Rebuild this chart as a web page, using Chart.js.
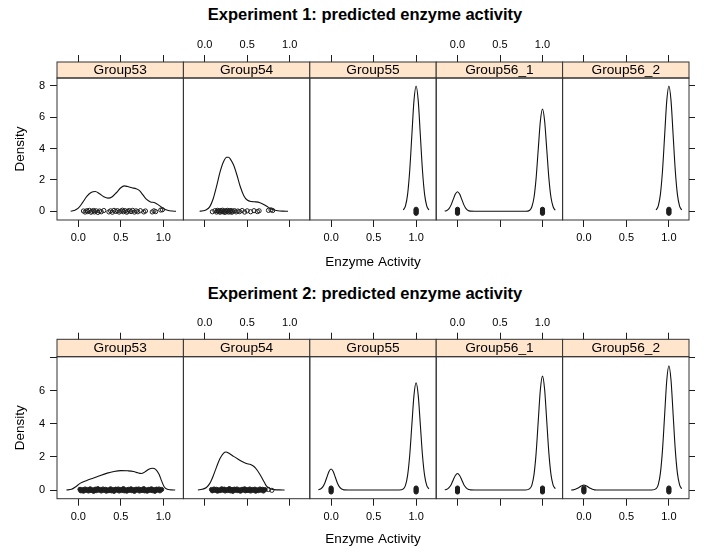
<!DOCTYPE html>
<html><head><meta charset="utf-8">
<script src="https://cdn.jsdelivr.net/npm/chart.js@4.4.1/dist/chart.umd.min.js"></script>
<style>
html,body{margin:0;padding:0;background:#fff;}
#root{position:relative;width:704px;height:555px;overflow:hidden;background:#fff;}
.mt{position:absolute;left:0;width:730px;text-align:center;font:bold 16.5px 'Liberation Sans',Arial,sans-serif;line-height:20px;color:#000;white-space:nowrap;}
canvas{position:absolute;left:0;}
</style></head><body>
<div id="root">
<div class="mt" id="t1" style="top:4.4px"></div>
<div class="mt" id="t2" style="top:282.8px"></div>
</div>
<script>
// ---------------- data ----------------
const experimentTitles = ['Experiment 1: predicted enzyme activity', 'Experiment 2: predicted enzyme activity'];
const groups = ['Group53', 'Group54', 'Group55', 'Group56_1', 'Group56_2'];
const xAxisTitle = 'Enzyme Activity';
const yAxisTitle = 'Density';
const xTicks = [0, 0.5, 1];
const xTickLabels = ['0.0', '0.5', '1.0'];
const yTicks = [0, 2, 4, 6, 8];
const yTickLabels1 = ['0', '2', '4', '6', '8'];
const yTickLabels2 = ['0', '2', '4', '6', ''];

// density curves [x, density]
const dens1_53 = [[-0.09,0],[-0.05,0.05],[0,0.2],[0.05,0.55],[0.1,0.95],[0.15,1.2],[0.2,1.26],[0.25,1.12],[0.3,0.93],[0.35,0.84],[0.4,0.93],[0.45,1.2],[0.5,1.5],[0.54,1.62],[0.58,1.58],[0.63,1.5],[0.68,1.44],[0.72,1.32],[0.76,1.05],[0.8,0.78],[0.85,0.6],[0.9,0.55],[0.95,0.38],[1,0.18],[1.05,0.07],[1.1,0.02],[1.15,0]];
const dens1_54 = [[-0.06,0],[-0.02,0.03],[0.02,0.1],[0.06,0.3],[0.1,0.8],[0.14,1.6],[0.18,2.5],[0.22,3.15],[0.26,3.45],[0.28,3.45],[0.3,3.35],[0.34,2.95],[0.38,2.3],[0.42,1.55],[0.46,1.0],[0.5,0.72],[0.55,0.62],[0.6,0.6],[0.65,0.55],[0.7,0.42],[0.75,0.25],[0.8,0.12],[0.86,0.04],[0.92,0.01],[0.98,0]];
const dens1_55 = [[0.85,0.09],[0.875,0.35],[0.9,1.08],[0.925,2.6],[0.95,4.85],[0.975,7.06],[1,8.0],[1.025,7.06],[1.05,4.85],[1.075,2.6],[1.1,1.08],[1.125,0.35],[1.15,0.09]];
const dens1_561 = [[-0.15,0.01],[-0.125,0.05],[-0.1,0.17],[-0.075,0.41],[-0.05,0.76],[-0.025,1.1],[0,1.25],[0.025,1.1],[0.05,0.76],[0.075,0.41],[0.1,0.17],[0.125,0.05],[0.15,0.01],[0.2,0],[0.5,0],[0.8,0],[0.85,0.07],[0.875,0.29],[0.9,0.88],[0.925,2.12],[0.95,3.96],[0.975,5.76],[1,6.53],[1.025,5.76],[1.05,3.96],[1.075,2.12],[1.1,0.88],[1.125,0.29],[1.15,0.07]];
const dens1_562 = [[0.85,0.09],[0.875,0.35],[0.9,1.08],[0.925,2.6],[0.95,4.85],[0.975,7.06],[1,8.0],[1.025,7.06],[1.05,4.85],[1.075,2.6],[1.1,1.08],[1.125,0.35],[1.15,0.09]];

const dens2_53 = [[-0.14,0],[-0.08,0.04],[-0.03,0.2],[0.02,0.4],[0.1,0.58],[0.18,0.72],[0.26,0.88],[0.34,1.02],[0.42,1.12],[0.5,1.17],[0.58,1.16],[0.65,1.12],[0.7,1.04],[0.74,1.0],[0.78,1.08],[0.83,1.25],[0.87,1.31],[0.91,1.25],[0.95,0.95],[0.98,0.55],[1.01,0.2],[1.04,0.06],[1.09,0.01],[1.14,0]];
const dens2_54 = [[-0.08,0],[-0.03,0.04],[0.02,0.15],[0.06,0.4],[0.1,0.85],[0.14,1.4],[0.18,1.9],[0.22,2.22],[0.25,2.3],[0.29,2.2],[0.34,2.03],[0.39,1.87],[0.44,1.72],[0.49,1.6],[0.54,1.54],[0.58,1.42],[0.62,1.18],[0.66,0.85],[0.7,0.48],[0.73,0.22],[0.77,0.08],[0.82,0.02],[0.88,0.005],[0.94,0]];
const dens2_55 = [[-0.15,0.01],[-0.125,0.06],[-0.1,0.17],[-0.075,0.41],[-0.05,0.77],[-0.025,1.12],[0,1.27],[0.025,1.12],[0.05,0.77],[0.075,0.41],[0.1,0.17],[0.125,0.06],[0.15,0.01],[0.2,0],[0.5,0],[0.8,0],[0.85,0.07],[0.875,0.28],[0.9,0.88],[0.925,2.1],[0.95,3.93],[0.975,5.72],[1,6.48],[1.025,5.72],[1.05,3.93],[1.075,2.1],[1.1,0.88],[1.125,0.28],[1.15,0.07]];
const dens2_561 = [[-0.15,0.01],[-0.125,0.04],[-0.1,0.14],[-0.075,0.32],[-0.05,0.61],[-0.025,0.88],[0,1.0],[0.025,0.88],[0.05,0.61],[0.075,0.32],[0.1,0.14],[0.125,0.04],[0.15,0.01],[0.2,0],[0.5,0],[0.8,0],[0.85,0.08],[0.875,0.3],[0.9,0.93],[0.925,2.23],[0.95,4.17],[0.975,6.07],[1,6.88],[1.025,6.07],[1.05,4.17],[1.075,2.23],[1.1,0.93],[1.125,0.3],[1.15,0.08]];
const dens2_562 = [[-0.15,0],[-0.125,0.01],[-0.1,0.04],[-0.075,0.1],[-0.05,0.18],[-0.025,0.26],[0,0.3],[0.025,0.26],[0.05,0.18],[0.075,0.1],[0.1,0.04],[0.125,0.01],[0.15,0],[0.2,0],[0.5,0],[0.8,0],[0.85,0.08],[0.875,0.33],[0.9,1.02],[0.925,2.44],[0.95,4.55],[0.975,6.63],[1,7.51],[1.025,6.63],[1.05,4.55],[1.075,2.44],[1.1,1.02],[1.125,0.33],[1.15,0.08]];

// observed values (rug points) [x, jitter]
const rug1_53 = [[0.06,0.02],[0.08,-0.05],[0.10,0.04],[0.11,-0.02],[0.13,0.06],[0.15,-0.06],[0.16,0.01],[0.18,0.05],[0.19,-0.04],[0.21,0.03],[0.23,-0.07],[0.25,0.02],[0.27,-0.03],[0.30,0.05],[0.36,-0.04],[0.38,0.03],[0.40,-0.06],[0.42,0.06],[0.44,-0.01],[0.46,0.04],[0.48,-0.05],[0.50,0.02],[0.52,0.07],[0.53,-0.03],[0.55,0.04],[0.57,-0.06],[0.58,0.01],[0.60,0.05],[0.62,-0.02],[0.64,0.06],[0.66,-0.05],[0.68,0.03],[0.70,-0.03],[0.73,0.04],[0.77,-0.04],[0.79,0.02],[0.87,-0.04],[0.89,0.03],[0.91,-0.02],[0.97,0.08],[0.99,0.1]];
const rug1_54 = [[0.09,-0.03],[0.12,0.04],[0.14,-0.05],[0.15,0.06],[0.16,-0.01],[0.17,0.03],[0.18,-0.06],[0.19,0.05],[0.20,-0.02],[0.21,0.07],[0.22,-0.04],[0.23,0.02],[0.24,-0.07],[0.25,0.04],[0.26,-0.01],[0.27,0.06],[0.28,-0.05],[0.29,0.03],[0.30,-0.03],[0.31,0.05],[0.32,-0.06],[0.33,0.01],[0.35,0.04],[0.37,-0.04],[0.39,0.02],[0.41,-0.02],[0.44,0.05],[0.47,-0.05],[0.50,0.03],[0.54,-0.03],[0.58,0.04],[0.62,-0.02],[0.64,0.03],[0.75,0.06],[0.78,0.09],[0.80,0.05]];
const rug1_55 = [[1,-0.13],[1,-0.07],[1,0],[1,0.07],[1,0.13]];
const rug1_561 = [[0,-0.13],[0,-0.07],[0,0],[0,0.07],[0,0.13],[1,-0.13],[1,-0.07],[1,0],[1,0.07],[1,0.13]];
const rug1_562 = [[1,-0.13],[1,-0.07],[1,0],[1,0.07],[1,0.13]];

const rug2_53 = [[0.02,0.04],[0.03,-0.05],[0.05,0.02],[0.06,-0.07],[0.08,0.06],[0.09,-0.02],[0.11,0.03],[0.12,-0.06],[0.14,0.07],[0.15,-0.03],[0.17,0.01],[0.18,-0.08],[0.20,0.05],[0.21,-0.04],[0.23,0.08],[0.24,-0.01],[0.26,0.03],[0.27,-0.06],[0.29,0.06],[0.30,-0.02],[0.32,0.04],[0.33,-0.07],[0.35,0.01],[0.36,-0.04],[0.38,0.07],[0.39,-0.05],[0.41,0.02],[0.42,-0.08],[0.44,0.05],[0.45,-0.01],[0.47,0.06],[0.48,-0.06],[0.50,0.03],[0.51,-0.03],[0.53,0.08],[0.54,-0.05],[0.56,0.01],[0.57,-0.07],[0.59,0.04],[0.60,-0.02],[0.62,0.07],[0.63,-0.04],[0.65,0.02],[0.66,-0.08],[0.68,0.05],[0.69,-0.01],[0.71,0.06],[0.72,-0.06],[0.74,0.03],[0.75,-0.03],[0.77,0.08],[0.78,-0.05],[0.80,0.01],[0.81,-0.07],[0.83,0.04],[0.84,-0.02],[0.86,0.07],[0.87,-0.04],[0.89,0.02],[0.90,-0.08],[0.92,0.05],[0.93,-0.01],[0.95,0.06],[0.96,-0.05],[0.98,0.03]];
const rug2_54 = [[0.08,0.03],[0.09,-0.05],[0.11,0.06],[0.12,-0.02],[0.14,0.04],[0.15,-0.07],[0.17,0.01],[0.18,-0.04],[0.20,0.07],[0.21,-0.01],[0.23,0.05],[0.24,-0.06],[0.26,0.02],[0.27,-0.03],[0.29,0.08],[0.30,-0.05],[0.32,0.03],[0.33,-0.08],[0.35,0.05],[0.36,-0.02],[0.38,0.06],[0.39,-0.04],[0.41,0.01],[0.42,-0.07],[0.44,0.04],[0.45,-0.01],[0.47,0.07],[0.48,-0.05],[0.50,0.02],[0.51,-0.03],[0.53,0.06],[0.54,-0.06],[0.56,0.03],[0.57,-0.02],[0.59,0.05],[0.60,-0.07],[0.62,0.01],[0.63,-0.04],[0.65,0.06],[0.66,-0.01],[0.68,0.04],[0.69,-0.06],[0.71,0.02]];
const rug2_54_outliers = [[0.75,0.03],[0.79,-0.02]];
const rug2_55 = [[0,-0.12],[0,-0.06],[0,0],[0,0.06],[0,0.12],[1,-0.12],[1,-0.06],[1,0],[1,0.06],[1,0.12]];
const rug2_561 = [[0,-0.12],[0,-0.06],[0,0],[0,0.06],[0,0.12],[1,-0.12],[1,-0.06],[1,0],[1,0.06],[1,0.12]];
const rug2_562 = [[0,-0.12],[0,-0.06],[0,0],[0,0.06],[0,0.12],[1,-0.12],[1,-0.06],[1,0],[1,0.06],[1,0.12]];

const densities = [[dens1_53, dens1_54, dens1_55, dens1_561, dens1_562], [dens2_53, dens2_54, dens2_55, dens2_561, dens2_562]];
// per panel: [open-circle points, filled (overplotted) points]
const rugs = [
  [[rug1_53, []], [rug1_54, []], [[], rug1_55], [[], rug1_561], [[], rug1_562]],
  [[[], rug2_53], [rug2_54_outliers, rug2_54], [[], rug2_55], [[], rug2_561], [[], rug2_562]]
];
const yTickLabelSets = [yTickLabels1, yTickLabels2];

// ---------------- layout ----------------
Chart.defaults.font.family = "'Liberation Sans', Arial, Helvetica, sans-serif";
Chart.defaults.color = '#000';
const W = 704, H = 277;
const geo = [
  {top: 0,   stripTop: 62,   stripBottom: 78,   bottom: 220,   zero: 211.3, unit: 15.67, topTick: 23},
  {top: 277, stripTop: 62.3, stripBottom: 79.7, bottom: 221.7, zero: 213,   unit: 16.55, topTick: 24}
];
const panelLeft0 = 57, panelW = 126.4, xZeroOff = 21.3, xUnit = 85;
const xMin = -xZeroOff / xUnit, xMax = (panelW - xZeroOff) / xUnit;
const titleFont = 13.5, titleLH = titleFont * 1.2;
const xTitleCenter = 262, yTitleCenter = 20;
const bottomEdge = xTitleCenter + titleLH / 2;
const leftEdge = yTitleCenter - titleLH / 2;
const rightW = 10;
const lineCol = '#1e1e1e', frameCol = '#333', stripCol = '#FFE5CC';

document.getElementById('t1').textContent = experimentTitles[0];
document.getElementById('t2').textContent = experimentTitles[1];

const root = document.getElementById('root');

for (let e = 0; e < 2; e++) {
  const g = geo[e];
  const yMin = (g.zero - g.bottom) / g.unit;
  const yMax = (g.zero - g.stripBottom) / g.unit;
  const topH = 45;
  const bottomH = bottomEdge - g.bottom;
  for (let p = 0; p < 5; p++) {
    const pl = panelLeft0 + p * panelW, pr = pl + panelW;
    const cv = document.createElement('canvas');
    cv.width = W; cv.height = H;
    cv.style.top = g.top + 'px';
    cv.style.width = W + 'px'; cv.style.height = H + 'px';
    root.appendChild(cv);
    const hasLeft = p === 0, hasRight = p === 4;
    const padding = {
      top: g.stripBottom - topH,
      bottom: H - bottomEdge,
      left: hasLeft ? leftEdge : pl,
      right: hasRight ? (W - pr - rightW) : (W - pr)
    };
    const stripH = g.stripBottom - g.stripTop;
    const frame = {
      id: 'frame' + e + p,
      afterDraw(chart) {
        const a = chart.chartArea, ctx = chart.ctx;
        const w = a.right - a.left;
        ctx.save();
        ctx.fillStyle = stripCol;
        ctx.fillRect(a.left, a.top - stripH, w, stripH);
        ctx.strokeStyle = frameCol; ctx.lineWidth = 1;
        ctx.strokeRect(a.left, a.top - stripH, w, stripH);
        ctx.strokeRect(a.left, a.top, w, a.bottom - a.top);
        ctx.fillStyle = '#000';
        ctx.font = "13.7px 'Liberation Sans', Arial, sans-serif";
        ctx.textAlign = 'center'; ctx.textBaseline = 'middle';
        ctx.fillText(groups[p], (a.left + a.right) / 2, a.top - stripH / 2 + 0.5);
        ctx.restore();
      }
    };
    const [openPts, filledPts] = rugs[e][p];
    new Chart(cv, {
      type: 'line',
      data: {
        datasets: [
          {
            data: filledPts.map(([x, y]) => ({x, y})),
            showLine: false,
            pointRadius: 2.1, pointHoverRadius: 2.1, pointBorderWidth: 1,
            pointBorderColor: lineCol, pointBackgroundColor: lineCol
          },
          {
            data: openPts.map(([x, y]) => ({x, y})),
            showLine: false,
            pointRadius: 2.1, pointHoverRadius: 2.1, pointBorderWidth: 1,
            pointBorderColor: lineCol, pointBackgroundColor: 'rgba(0,0,0,0)'
          },
          {
            data: densities[e][p].map(([x, y]) => ({x, y})),
            borderColor: '#111', borderWidth: 1.1, pointRadius: 0, pointHoverRadius: 0,
            cubicInterpolationMode: 'monotone', fill: false
          }
        ]
      },
      options: {
        responsive: false, animation: false, devicePixelRatio: 1, events: [],
        layout: { padding, autoPadding: false },
        plugins: { legend: { display: false }, tooltip: { enabled: false }, title: { display: false } },
        scales: {
          x: {
            type: 'linear', position: 'bottom', min: xMin, max: xMax,
            afterBuildTicks: s => { s.ticks = xTicks.map(v => ({value: v})); },
            afterFit: s => { s.height = bottomH; },
            grid: { display: true, drawOnChartArea: false, drawTicks: true, tickLength: 7, color: lineCol, lineWidth: 1 },
            border: { display: false },
            ticks: { padding: 4.5, maxRotation: 0, minRotation: 0, autoSkip: false, color: '#000', font: { size: 11 },
                     callback: (v, i) => (p % 2 === 0 ? xTickLabels[i] : '') },
            title: { display: p === 2, text: xAxisTitle, color: '#000', font: { size: titleFont }, padding: 0 }
          },
          xTop: {
            type: 'linear', position: 'top', min: xMin, max: xMax,
            afterBuildTicks: s => { s.ticks = xTicks.map(v => ({value: v})); },
            afterFit: s => { s.height = topH; },
            grid: { display: true, drawOnChartArea: false, drawTicks: true, tickLength: g.topTick, color: lineCol, lineWidth: 1 },
            border: { display: false },
            ticks: { padding: 3, maxRotation: 0, minRotation: 0, autoSkip: false, color: '#000', font: { size: 11 },
                     callback: (v, i) => (p % 2 === 1 ? xTickLabels[i] : '') }
          },
          y: {
            type: 'linear', position: hasRight ? 'right' : 'left', min: yMin, max: yMax,
            display: hasLeft || hasRight,
            afterBuildTicks: s => { s.ticks = yTicks.map(v => ({value: v})); },
            afterFit: s => { s.width = hasLeft ? (pl - leftEdge) : (hasRight ? rightW : 0); },
            grid: { display: true, drawOnChartArea: false, drawTicks: true, tickLength: hasLeft ? 7 : 6, color: lineCol, lineWidth: 1 },
            border: { display: false },
            ticks: { padding: 5, autoSkip: false, color: '#000', font: { size: 11 },
                     callback: (v, i) => (hasLeft ? yTickLabelSets[e][i] : '') },
            title: { display: hasLeft, text: yAxisTitle, color: '#000', font: { size: titleFont }, padding: 0 }
          }
        }
      },
      plugins: [frame]
    });
  }
}
</script>
</body></html>
